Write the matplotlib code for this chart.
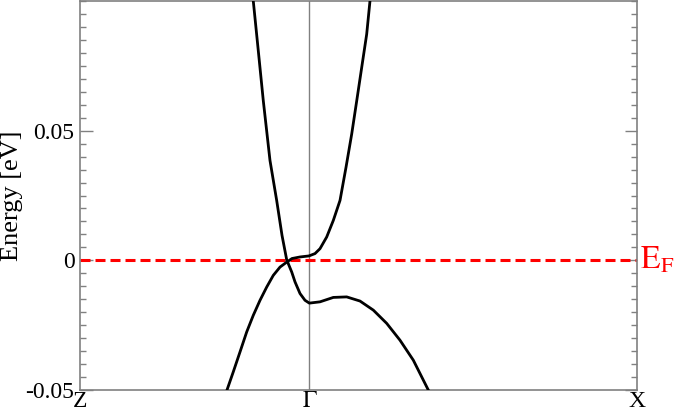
import numpy as np
import matplotlib
matplotlib.use('Agg')
import matplotlib.pyplot as plt

plt.rcParams['font.family'] = ['Liberation Serif', 'DejaVu Serif']
plt.rcParams['mathtext.fontset'] = 'stix'
plt.rcParams['lines.scale_dashes'] = False

# puntos de alta simetria (camino Z - Gamma - X, normalizado)
kpts = [0.0, 0.4117, 1.0]
klabels = ['Z', r'$\Gamma$', 'X']

# banda que baja desde arriba a la izquierda, valle en Gamma, joroba y cae
k1 = [0.3111, 0.3201, 0.3291, 0.3411, 0.3531, 0.3627, 0.3711, 0.3801, 0.3860,
      0.3950, 0.4039, 0.4117, 0.4309, 0.4548, 0.4788, 0.5027, 0.5266, 0.5506,
      0.5745, 0.5984, 0.6253]
e1 = [0.1000, 0.0808, 0.0615, 0.0385, 0.0231, 0.0096, 0.0002, -0.0045, -0.0083,
      -0.0128, -0.0154, -0.0165, -0.0160, -0.0143, -0.0141, -0.0157, -0.0192, -0.0243,
      -0.0308, -0.0385, -0.0500]

# banda que sube desde abajo, toca E_F, plana hasta Gamma y sube empinada
k2 = [0.2639, 0.2752, 0.2873, 0.2993, 0.3111, 0.3232, 0.3352, 0.3470, 0.3591,
      0.3711, 0.3806, 0.3950, 0.4111, 0.4219, 0.4309, 0.4429, 0.4548, 0.4668,
      0.4776, 0.4878, 0.4968, 0.5057, 0.5147, 0.5206]
e2 = [-0.0500, -0.0430, -0.0353, -0.0276, -0.0212, -0.0154, -0.0103, -0.0058, -0.0026,
      -0.0007, 0.0007, 0.0013, 0.0017, 0.0026, 0.0045, 0.0090, 0.0154, 0.0231,
      0.0359, 0.0487, 0.0615, 0.0743, 0.0872, 0.1000]

fig = plt.figure(figsize=(6.75, 4.12), dpi=100)
ax = fig.add_axes([80/675, 22/412, 557/675, 389/412])

ax.axvline(kpts[1], color='#808080', lw=1.0, zorder=1)
ax.plot(k1, e1, color='black', lw=2.0, zorder=3, solid_joinstyle='round')
ax.plot(k2, e2, color='black', lw=2.0, zorder=3, solid_joinstyle='round')
ax.axhline(0, color='red', lw=2.2, dashes=(7.2, 3.6), zorder=2)

ax.set_xlim(0, 1)
ax.set_ylim(-0.05, 0.1)
ax.set_xticks(kpts)
ax.set_xticklabels(klabels, fontsize=17)
ax.set_yticks([-0.05, 0, 0.05])
ax.set_yticklabels(['-0.05', '0', '0.05'], fontsize=17)
ax.set_yticks(np.arange(-0.05, 0.1, 0.005), minor=True)
ax.tick_params(axis='x', length=0, pad=1)
ax.tick_params(axis='y', which='both', direction='in', left=True, right=True,
               color='#808080', width=1.0)
ax.tick_params(axis='y', which='major', length=9, pad=4)
ax.tick_params(axis='y', which='minor', length=4.5)
for s in ax.spines.values():
    s.set_color('#808080')
    s.set_linewidth(1.2)

ax.set_ylabel('Energy [eV]', fontsize=19)
ax.yaxis.set_label_coords(-0.102, 0.5)
ax.text(1.006, 0.0, r'$\mathrm{E_F}$', color='red', fontsize=23,
        transform=ax.get_yaxis_transform(), va='center', ha='left')

fig.savefig('out.png', dpi=100)
